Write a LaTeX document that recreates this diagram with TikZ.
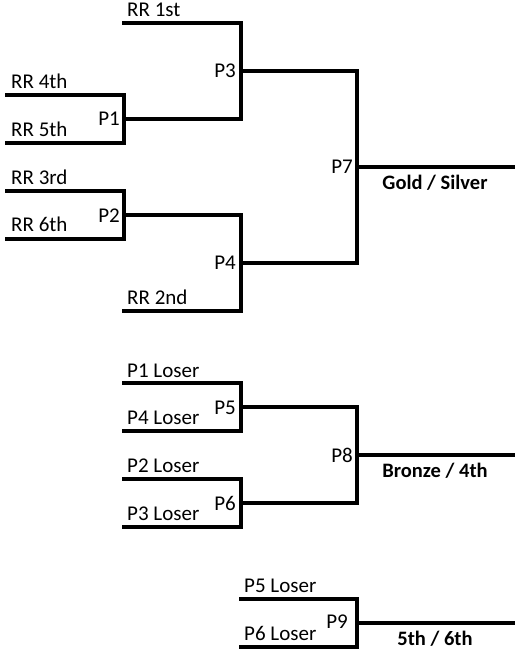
\documentclass[tikz,border=0pt]{standalone}
\usepackage{fontspec}
\setmainfont{Carlito}
\begin{document}
\begin{tikzpicture}[x=1pt,y=-1pt,
  br/.style={line width=3.2pt,line cap=rect,line join=miter},
  lbl/.style={anchor=base west,inner sep=0pt,font=\fontsize{21}{22}\selectfont},
  pl/.style={anchor=east,inner sep=0pt,font=\fontsize{21}{22}\selectfont},
  res/.style={anchor=base,inner sep=0pt,font=\fontsize{20.5}{22}\selectfont\bfseries}]
\useasboundingbox (0,0) rectangle (521,654);
% coordinates
\coordinate (r1a) at (124,23);  \coordinate (r1b) at (241,23);
\coordinate (p1t0) at (7,95);   \coordinate (p1t1) at (124,95);
\coordinate (p1b0) at (7,143);  \coordinate (p1b1) at (124,143);
\coordinate (p1o) at (124,119); \coordinate (p3i) at (241,119);
\coordinate (p3o) at (241,71);  \coordinate (p7t) at (357,71);
\coordinate (p2t0) at (7,191);  \coordinate (p2t1) at (124,191);
\coordinate (p2b0) at (7,239);  \coordinate (p2b1) at (124,239);
\coordinate (p2o) at (124,215); \coordinate (p4i) at (241,215);
\coordinate (r2a) at (124,311); \coordinate (r2b) at (241,311);
\coordinate (p4o) at (241,263); \coordinate (p7b) at (357,263);
\coordinate (p7o) at (357,167); \coordinate (p7e) at (513,167);
% P5/P6/P8
\coordinate (p5t0) at (124,383); \coordinate (p5t1) at (241,383);
\coordinate (p5b0) at (124,431); \coordinate (p5b1) at (241,431);
\coordinate (p5o) at (241,407);  \coordinate (p8t) at (357,407);
\coordinate (p6t0) at (124,479); \coordinate (p6t1) at (241,479);
\coordinate (p6b0) at (124,527); \coordinate (p6b1) at (241,527);
\coordinate (p6o) at (241,503);  \coordinate (p8b) at (357,503);
\coordinate (p8o) at (357,455);  \coordinate (p8e) at (513,455);
% P9
\coordinate (p9t0) at (241,599); \coordinate (p9t1) at (357,599);
\coordinate (p9b0) at (241,647); \coordinate (p9b1) at (357,647);
\coordinate (p9o) at (357,623);  \coordinate (p9e) at (513,623);
% lines
\draw[br] (r1a) -- (r1b) -- (p3i) -- (p1o);
\draw[br] (p1t0) -- (p1t1) -- (p1b1) -- (p1b0);
\draw[br] (p3o) -- (p7t) -- (p7b) -- (p4o);
\draw[br] (p2t0) -- (p2t1) -- (p2b1) -- (p2b0);
\draw[br] (p2o) -- (p4i) -- (r2b) -- (r2a);
\draw[br] (p7o) -- (p7e);
\draw[br] (p5t0) -- (p5t1) -- (p5b1) -- (p5b0);
\draw[br] (p6t0) -- (p6t1) -- (p6b1) -- (p6b0);
\draw[br] (p5o) -- (p8t) -- (p8b) -- (p6o);
\draw[br] (p8o) -- (p8e);
\draw[br] (p9t0) -- (p9t1) -- (p9b1) -- (p9b0);
\draw[br] (p9o) -- (p9e);
% labels
\node[lbl] (lr1) at (127,16) {RR 1st};
\node[lbl] (lr4) at (11,88) {RR 4th};
\node[lbl] (lr5) at (11,136) {RR 5th};
\node[lbl] (lr3) at (11,184) {RR 3rd};
\node[lbl] (lr6) at (11,231) {RR 6th};
\node[lbl] (lr2) at (127,304) {RR 2nd};
\node[lbl] (l1) at (127,377) {P1 Loser};
\node[lbl] (l4) at (127,424) {P4 Loser};
\node[lbl] (l2) at (127,472) {P2 Loser};
\node[lbl] (l3) at (127,520) {P3 Loser};
\node[lbl] (l5) at (244,592) {P5 Loser};
\node[lbl] (l6) at (244,640) {P6 Loser};
\node[pl] (n1) at (120,119) {P1};
\node[pl] (n2) at (120,216) {P2};
\node[pl] (n3) at (236,71) {P3};
\node[pl] (n4) at (236,263) {P4};
\node[pl] (n5) at (236,408) {P5};
\node[pl] (n6) at (236,503) {P6};
\node[pl] (n7) at (353,167) {P7};
\node[pl] (n8) at (353,455) {P8};
\node[pl] (n9) at (348,622) {P9};
\node[res] (g) at (435,189) {Gold / Silver};
\node[res] (b) at (435,477) {Bronze / 4th};
\node[res] (f) at (435,645) {5th / 6th};
\end{tikzpicture}
\end{document}
